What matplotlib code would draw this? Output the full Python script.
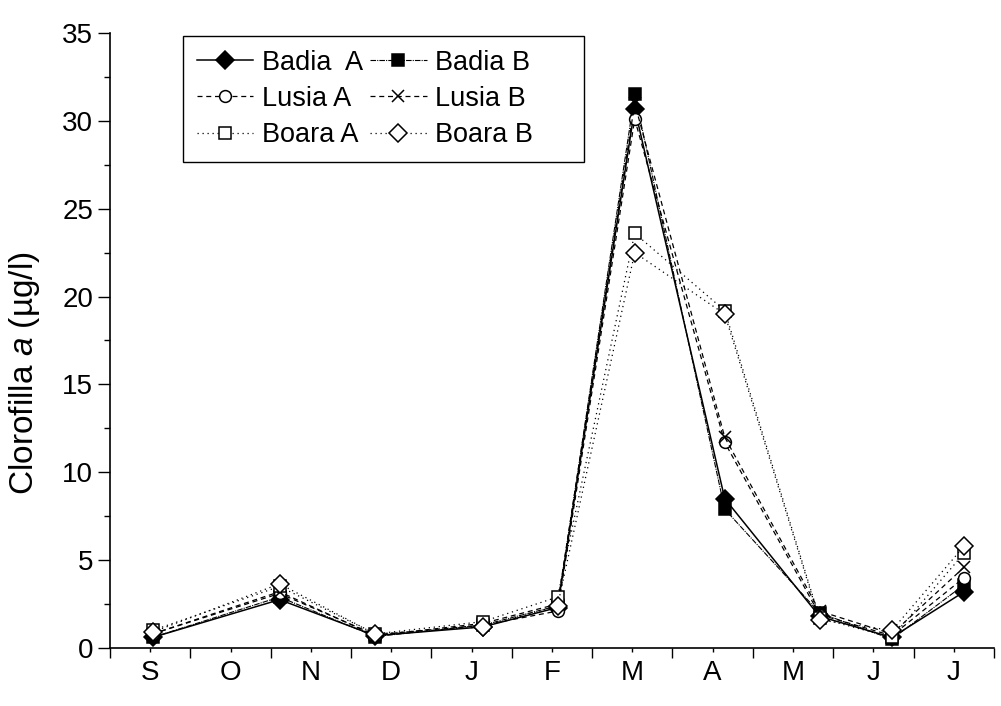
import matplotlib.pyplot as plt
import numpy as np

plt.rcParams['font.family'] = ['Liberation Sans', 'DejaVu Sans']
plt.rcParams['mathtext.fontset'] = 'custom'
plt.rcParams['mathtext.rm'] = 'Liberation Sans'
plt.rcParams['mathtext.it'] = 'Liberation Sans:italic'

# mesi (etichette al centro di ogni mese)
mesi = ["S", "O", "N", "D", "J", "F", "M", "A", "M", "J", "J"]

# date di campionamento, in mesi dall'inizio di settembre
date_campioni = [0.53, 2.11, 3.30, 4.64, 5.57, 6.53, 7.65, 8.83, 9.73, 10.63]

# clorofilla a (ug/l) per stazione
badia_a = [0.6, 2.75, 0.7, 1.2, 2.3, 30.7, 8.5, 1.8, 0.6, 3.2]
badia_b = [0.6, 2.9, 0.65, 1.3, 2.4, 31.5, 7.9, 2.0, 0.5, 3.6]
lusia_a = [0.8, 3.1, 0.75, 1.3, 2.1, 30.1, 11.7, 1.9, 0.7, 4.0]
lusia_b = [0.8, 3.2, 0.7, 1.4, 2.5, 31.0, 12.0, 2.1, 0.8, 4.6]
boara_a = [1.0, 3.5, 0.8, 1.5, 2.9, 23.6, 19.2, 1.7, 0.6, 5.4]
boara_b = [0.9, 3.65, 0.8, 1.2, 2.4, 22.5, 19.0, 1.6, 1.0, 5.8]

fig = plt.figure(figsize=(10.01, 7.06), dpi=100)
ax = fig.add_axes([0.1099, 0.0822, 0.883, 0.8711])

serie = [
    ("Badia  A", badia_a, '-', 'D', 'black', 1.1),
    ("Badia B", badia_b, (0, (5, 1, 1, 1)), 's', 'black', 0.8),
    ("Lusia A", lusia_a, (0, (4, 3)), 'o', 'white', 0.9),
    ("Lusia B", lusia_b, (0, (4, 3)), 'x', 'black', 0.9),
    ("Boara A", boara_a, (0, (1, 3)), 's', 'white', 0.9),
    ("Boara B", boara_b, (0, (1, 3)), 'D', 'white', 0.9),
]

linee = []
for nome, valori, stile, marker, faccia, lw in serie:
    ms = 9 if marker in ('D', 'x') else 8.5
    l, = ax.plot(date_campioni, valori, linestyle=stile, color='black', linewidth=lw,
                 marker=marker, markersize=ms, markerfacecolor=faccia,
                 markeredgecolor='black', markeredgewidth=1.1)
    linee.append((l, nome))

ax.set_xlim(0, 11)
ax.set_ylim(0, 35)

# tacche lunghe ai confini dei mesi, corte al centro con le etichette
ax.set_xticks(np.arange(0, 12))
ax.set_xticklabels([])
ax.set_xticks(np.arange(11) + 0.5, mesi, minor=True)
ax.tick_params(axis='x', which='major', direction='out', length=7, width=1)
ax.tick_params(axis='x', which='minor', direction='out', length=3, width=1,
               labelsize=20, pad=6)

ax.set_yticks(np.arange(0, 36, 5))
ax.set_yticks(np.arange(2.5, 35, 5), minor=True)
ax.tick_params(axis='y', which='major', direction='out', length=9, width=1,
               labelsize=20, pad=3)
ax.tick_params(axis='y', which='minor', direction='out', length=4, width=1)

ax.spines['top'].set_visible(False)
ax.spines['right'].set_visible(False)
ax.spines['left'].set_linewidth(1.2)
ax.spines['bottom'].set_linewidth(1.2)

ax.set_ylabel("Clorofilla $\\it{a}$ (µg/l)", fontsize=24)
ax.yaxis.set_label_coords(-0.077, 0.447)

# legenda a due colonne, riempita per righe
ordine = [0, 2, 4, 1, 3, 5]
maniglie = [linee[i][0] for i in ordine]
etichette = [linee[i][1] for i in ordine]
etichette = [e if i < 3 else e + "     " for i, e in enumerate(etichette)]
leg = ax.legend(maniglie, etichette, ncol=2, loc='upper left',
                bbox_to_anchor=(0.0826, 0.995), borderaxespad=0, fontsize=19.5,
                frameon=True, fancybox=False, edgecolor='black', framealpha=1,
                handlelength=2.1, handletextpad=0.3, columnspacing=0.26,
                labelspacing=0.38, borderpad=0.5)
leg.get_frame().set_linewidth(1.0)

fig.savefig("out.png", dpi=100)
